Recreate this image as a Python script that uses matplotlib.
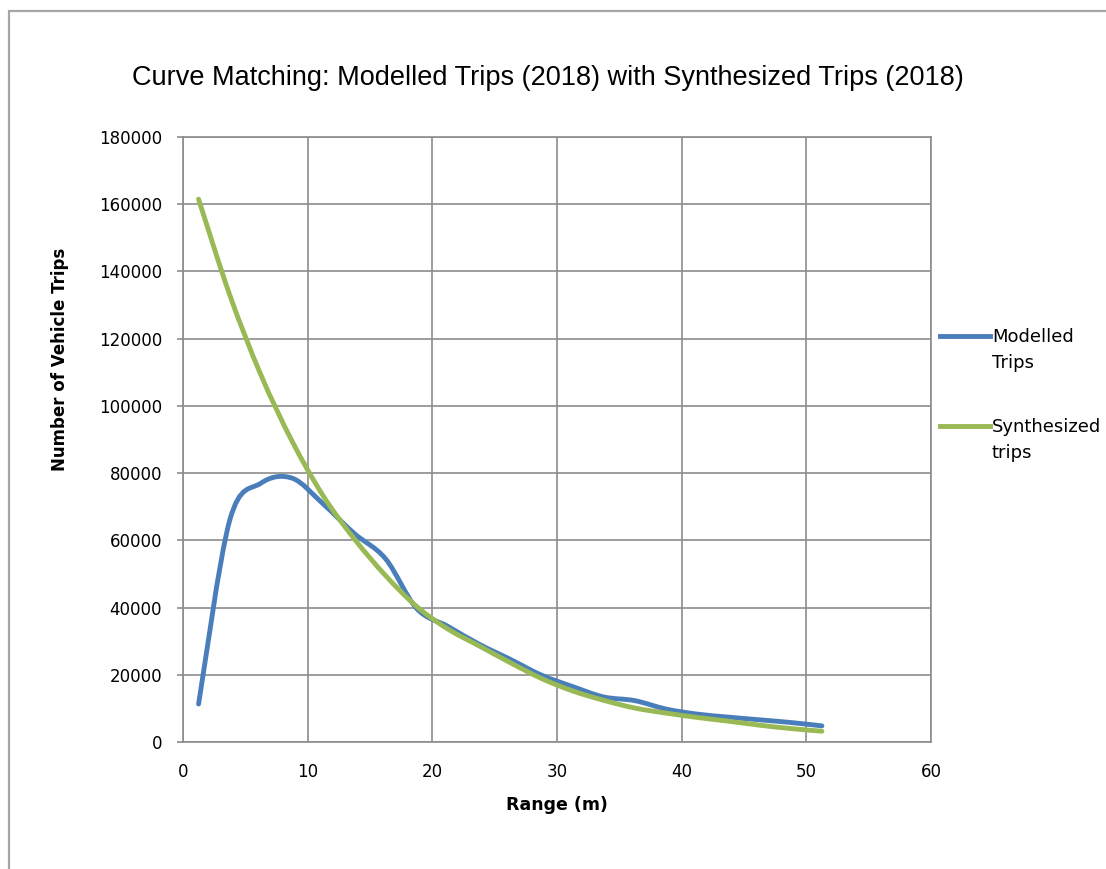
import numpy as np
import matplotlib
matplotlib.use("Agg")
import matplotlib.pyplot as plt
from matplotlib.path import Path
from matplotlib.patches import PathPatch, Rectangle
from matplotlib.lines import Line2D

# ---------------------------------------------------------------------------
# Data
# ---------------------------------------------------------------------------
range_m = [1.25, 3.75, 6.25, 8.75, 11.25, 13.75, 16.25, 18.75, 21.25, 23.75,
           26.25, 28.75, 31.25, 33.75, 36.25, 38.75, 41.25, 43.75, 46.25,
           48.75, 51.25]
modelled_trips = [11300, 66000, 77000, 78500, 70800, 62000, 54500, 39700,
                  34400, 29100, 24600, 19900, 16500, 13400, 12300, 9800,
                  8300, 7400, 6600, 5800, 4800]
synthesized_trips = [161500, 133000, 109200, 89500, 73200, 60400, 49500,
                     40300, 33600, 28600, 23600, 18900, 15200, 12400, 10100,
                     8600, 7300, 6200, 5000, 4000, 3200]

title = "Curve Matching: Modelled Trips (2018) with Synthesized Trips (2018)"
labels = ["Modelled\nTrips", "Synthesized\ntrips"]
colors = ["#4a7ebb", "#98b954"]
x_ticks = [0, 10, 20, 30, 40, 50, 60]
y_ticks = list(range(0, 180001, 20000))

GRID = "#8c8c8c"


def smooth_path(xs, ys):
    """Excel-style smoothed line: Catmull-Rom segments as cubic Beziers."""
    p = np.column_stack([xs, ys]).astype(float)
    verts = [p[0]]
    codes = [Path.MOVETO]
    n = len(p)
    for i in range(n - 1):
        p0 = p[i - 1] if i > 0 else p[i]
        p3 = p[i + 2] if i + 2 < n else p[i + 1]
        c1 = p[i] + (p[i + 1] - p0) / 6.0
        c2 = p[i + 1] - (p3 - p[i]) / 6.0
        verts += [c1, c2, p[i + 1]]
        codes += [Path.CURVE4] * 3
    return Path(verts, codes)


fig = plt.figure(figsize=(11.06, 8.69), dpi=100)
W, H = 1106, 869

# outer chart-area frame (only the top and left edges show in the crop)
fig.patches.append(Rectangle((9 / W, -0.1), 1.2, 1.1 - 11 / H,
                             transform=fig.transFigure, fill=False,
                             edgecolor="#a6a6a6", linewidth=1.6))

ax = fig.add_axes([183 / W, 1 - 742 / H, 748 / W, 605 / H])

for ys, c in zip([modelled_trips, synthesized_trips], colors):
    ax.add_patch(PathPatch(smooth_path(range_m, ys), facecolor="none",
                           edgecolor=c, linewidth=3.5, capstyle="round",
                           joinstyle="round", zorder=3))

ax.set_xlim(0, 60)
ax.set_ylim(0, 180000)
ax.set_xticks(x_ticks)
ax.set_yticks(y_ticks)
ax.grid(True, color=GRID, linewidth=1.2)
ax.set_axisbelow(True)
for s in ax.spines.values():
    s.set_color(GRID)
    s.set_linewidth(1.2)
ax.tick_params(axis="x", length=0, pad=15, labelsize=12)
ax.tick_params(axis="y", length=4, width=1.2, color=GRID, pad=11,
               labelsize=12)

ax.set_xlabel("Range (m)", fontsize=12.5, fontweight="bold")
ax.xaxis.set_label_coords(0.5, -0.104)
ax.xaxis.label.set_va("center")
ax.set_ylabel("Number of Vehicle Trips", fontsize=12, fontweight="bold")
ax.yaxis.set_label_coords(-0.1644, 0.633)
ax.yaxis.label.set_va("center")

fig.text(548 / W, 1 - 78 / H, title, ha="center", va="center",
         fontsize=19.5, family="Liberation Sans")

# legend at the right of the plot area
for k, (lab, c) in enumerate(zip(labels, colors)):
    yl = 1 - (336 + 90 * k) / H
    fig.add_artist(Line2D([940 / W, 990 / W], [yl, yl], color=c,
                          linewidth=3.5, transform=fig.transFigure))
    fig.text(992 / W, yl + 8 / H, lab, ha="left", va="top", fontsize=13,
             linespacing=1.6)

fig.savefig("out.png", dpi=100)
